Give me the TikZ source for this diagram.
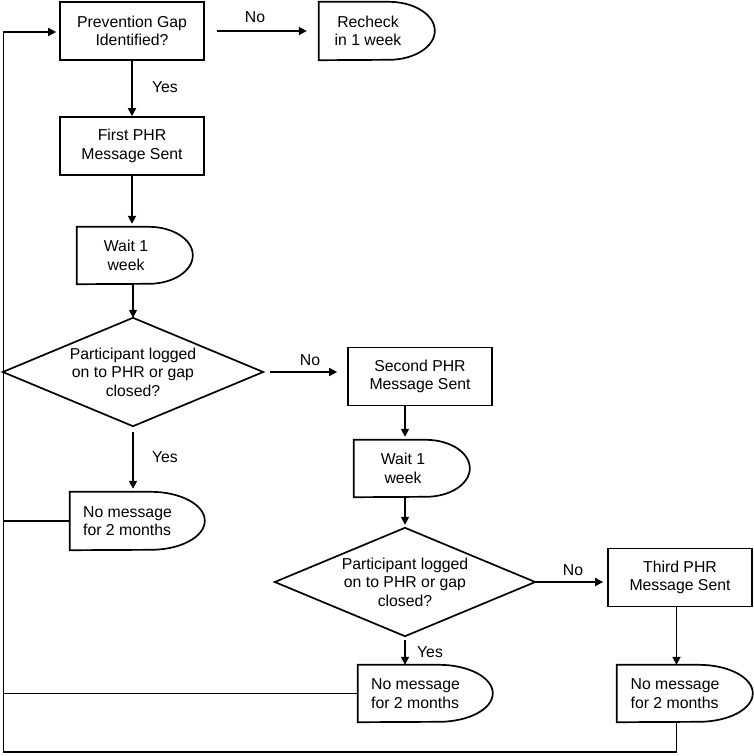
\documentclass[tikz,border=0pt]{standalone}
\usepackage{fontspec}
\setmainfont{Liberation Sans}
\usetikzlibrary{arrows.meta,calc}
\tikzset{
  conn/.style={line width=1.7pt},
  arr/.style={line width=1.7pt, -{Triangle[length=8pt,width=8pt]}},
  box/.style={draw, line width=1.7pt, minimum width=144pt, minimum height=58pt, inner sep=0pt, align=center},
  ghost/.style={inner sep=0pt},
  txt/.style={inner sep=0pt, align=center},
  lbl/.style={inner sep=0pt}
}
\newcommand\delaysh[7]{%
  \node[ghost, minimum width=#4pt, minimum height=#5pt] (#1) at (#2,#3) {};
  \draw[conn] (#1.north west) -- ++(#4-#6,0)
     arc[start angle=90, end angle=-90, x radius=#6pt, y radius=0.5*#5pt]
     -- (#1.south west) -- cycle;
}
\begin{document}
\begin{tikzpicture}[x=1pt, y=-1pt, font=\fontsize{15.8pt}{18.5pt}\selectfont]
\useasboundingbox (0,0) rectangle (754,756);

% boxes
\node[box] (gap) at (132,31) {Prevention Gap\\Identified?};
\delaysh{recheck}{377}{31}{116}{58}{46}{}
\node[txt] (recheck-t) at ([xshift=-9pt]recheck.center) {Recheck\\in 1 week};

\node[box] (first) at (132,146) {First PHR\\Message Sent};
\delaysh{wait1}{135}{255.5}{116}{57}{44}{}
\node[txt] (wait1-t) at ([xshift=-9pt]wait1.center) {Wait 1\\week};

\node[ghost, minimum width=260pt, minimum height=108pt, align=center] (d1) at (133,372) {Participant logged\\on to PHR or gap\\closed?};
\draw[conn] (d1.north) -- (d1.east) -- (d1.south) -- (d1.west) -- cycle;

\delaysh{nomsg1}{137.5}{521}{135}{58}{54}{}
\node[txt, align=left] (nomsg1-t) at ([xshift=-10pt]nomsg1.center) {No message\\for 2 months};

\node[box] (second) at (420,376.5) {Second PHR\\Message Sent};
\delaysh{wait2}{412}{468.5}{116}{57}{44}{}
\node[txt] (wait2-t) at ([xshift=-9pt]wait2.center) {Wait 1\\week};

\node[ghost, minimum width=260pt, minimum height=108pt, align=center] (d2) at (405,582) {Participant logged\\on to PHR or gap\\closed?};
\draw[conn] (d2.north) -- (d2.east) -- (d2.south) -- (d2.west) -- cycle;

\delaysh{nomsg2}{425.5}{693.5}{135}{57}{54}{}
\node[txt, align=left] (nomsg2-t) at ([xshift=-10pt]nomsg2.center) {No message\\for 2 months};

\node[box] (third) at (680,577.5) {Third PHR\\Message Sent};
\delaysh{nomsg3}{685}{693.5}{136}{57}{54}{}
\node[txt, align=left] (nomsg3-t) at ([xshift=-10pt]nomsg3.center) {No message\\for 2 months};

% helper coordinates
\coordinate (c3) at (676.5,0);
\coordinate (tl) at (3.5,32);
\coordinate (bl) at (3.5,752);

% connectors
\draw[arr, shorten <=12pt, shorten >=12pt] (gap.east) -- (gap.east -| recheck.west);
\node[lbl] (no1) at (255,17) {No};
\draw[arr] (gap.south) -- (first.north);
\node[lbl] (yes1) at (165,87) {Yes};
\draw[arr, shorten >=3pt] (first.south) -- (first.south |- wait1.north);
\draw[arr] (wait1.south -| d1.north) -- (d1.north);
\draw[arr, shorten <=7pt, shorten >=10pt] (d1.east) -- (d1.east -| second.west);
\node[lbl] (no2) at (310,360) {No};
\draw[arr, shorten <=6pt, shorten >=3pt] (d1.south) -- (d1.south |- nomsg1.north);
\node[lbl] (yes2) at (165,457) {Yes};
\draw[arr, shorten >=3pt] (second.south -| d2.north) -- (wait2.north -| d2.north);
\draw[arr, shorten >=3pt] (wait2.south -| d2.north) -- (d2.north);
\draw[arr, shorten >=4pt] (d2.east) -- (d2.east -| third.west);
\node[lbl] (no3) at (573,570) {No};
\draw[arr] (third.south -| c3) -- (nomsg3.north -| c3);
\draw[arr, shorten <=4pt] (d2.south) -- (d2.south |- nomsg2.north);
\node[lbl] (yes3) at (430,652) {Yes};

% feedback loops
\draw[conn] (nomsg1.west) -- (nomsg1.west -| tl);
\draw[conn] (nomsg2.west) -- (nomsg2.west -| tl);
\draw[arr, shorten >=3pt] (nomsg3.south -| c3) |- (bl) -- (tl) -- (tl -| gap.west);
\end{tikzpicture}
\end{document}
